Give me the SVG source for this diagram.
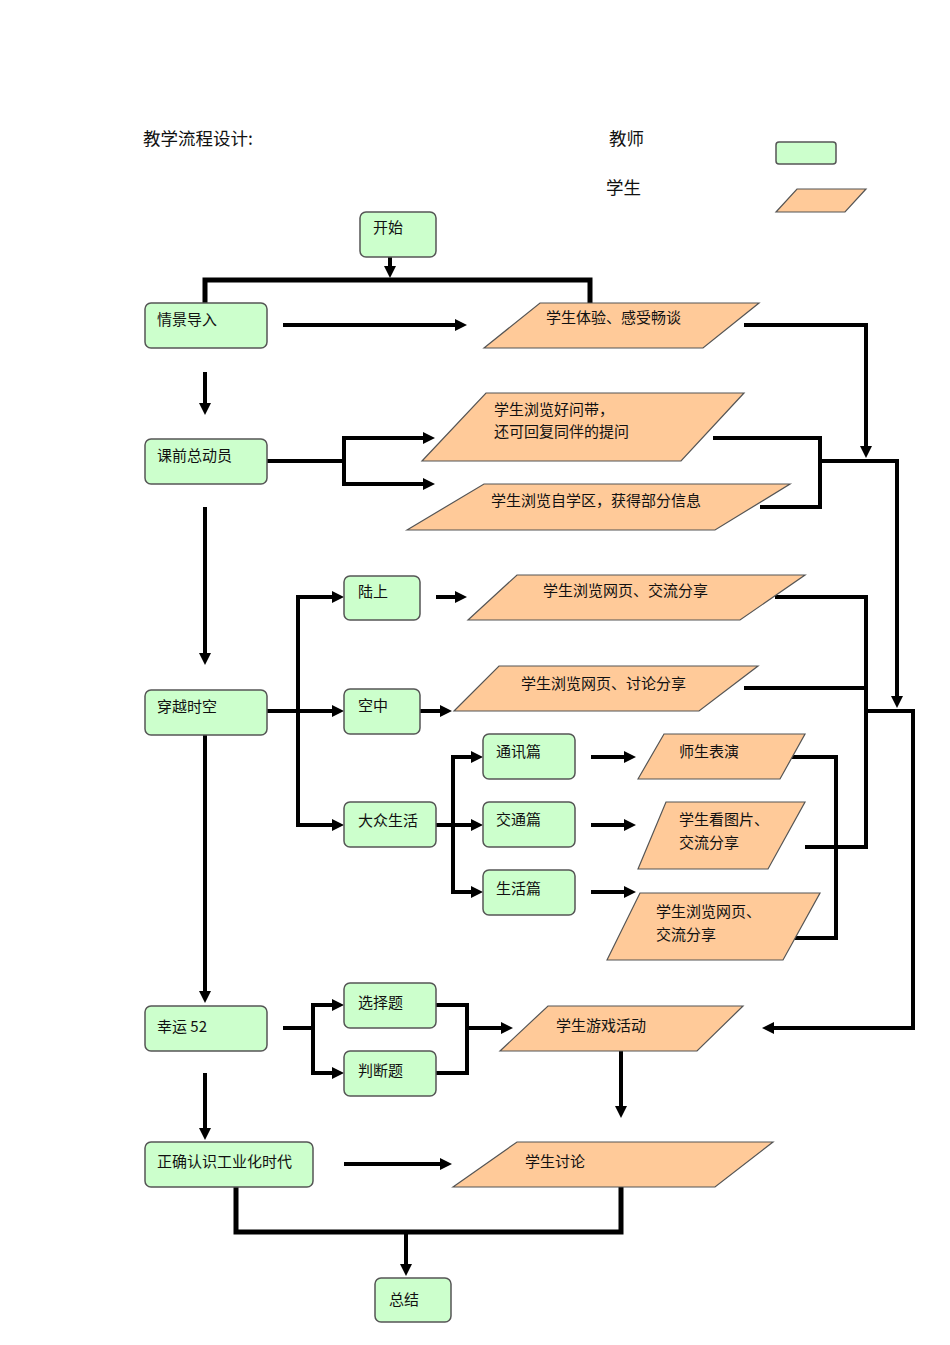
<svg xmlns="http://www.w3.org/2000/svg" width="950" height="1345" viewBox="0 0 950 1345">
<style>
.t{fill:#ccffcc;stroke:#555;stroke-width:1.5}
.s{fill:#ffca99;stroke:#555;stroke-width:1.2}
.tx{font-family:"Noto Sans CJK SC","Liberation Sans",sans-serif;font-size:15px;fill:#111}
.hd{font-family:"Noto Sans CJK SC","Liberation Sans",sans-serif;font-size:17.5px;fill:#111}
.c{fill:none;stroke:#000;stroke-width:4;stroke-linejoin:miter}
.b{stroke-width:5}
.a{marker-end:url(#ah)}
</style>
<defs>
<marker id="ah" markerUnits="userSpaceOnUse" markerWidth="13" markerHeight="13" refX="6" refY="6" orient="auto">
<path d="M0,0 L12,6 L0,12 z" fill="#000"/>
</marker>
</defs>
<rect width="950" height="1345" fill="#fff"/>
<g id="legend">
<text class="hd" x="143" y="145">教学流程设计:</text>
<text class="hd" x="609" y="145">教师</text>
<text class="hd" x="606" y="194">学生</text>
<rect class="t" x="776" y="142" width="60" height="22" rx="3"/>
<polygon class="s" points="776,212 797,189 866,189 845,212"/>
</g>
<g id="connectors">
<path class="c a" d="M390,257 V272"/>
<path class="c b" d="M205,303 V280 H590 V303"/>
<path class="c a" d="M283,325 H461"/>
<path class="c a" d="M744,325 H866 V452"/>
<path class="c a" d="M205,372 V409"/>
<path class="c" d="M267,461 H344"/>
<path class="c a" d="M429,438 H344 V484 H429"/>
<path class="c a" d="M344,438 H429"/>
<path class="c" d="M713,438 H820 V507 H760"/>
<path class="c a" d="M820,461 H897 V702"/>
<path class="c" d="M775,597 H866 V847 H805"/>
<path class="c" d="M744,688 H866"/>
<path class="c a" d="M866,711 H913 V1028 H768"/>
<path class="c" d="M790,757 H836 V938 H790"/>
<path class="c a" d="M267,711 H338"/>
<path class="c a" d="M338,597 H298 V825 H338"/>
<path class="c a" d="M298,597 H338"/>
<path class="c a" d="M436,597 H461"/>
<path class="c a" d="M420,711 H446"/>
<path class="c a" d="M436,825 H477"/>
<path class="c a" d="M477,757 H453 V892 H477"/>
<path class="c a" d="M453,757 H477"/>
<path class="c a" d="M591,757 H630"/>
<path class="c a" d="M591,825 H630"/>
<path class="c a" d="M591,892 H630"/>
<path class="c a" d="M205,507 V659"/>
<path class="c a" d="M205,735 V997"/>
<path class="c" d="M283,1028 H313"/>
<path class="c a" d="M338,1005 H313 V1073 H338"/>
<path class="c a" d="M313,1005 H338"/>
<path class="c" d="M436,1005 H467 V1073 H436"/>
<path class="c a" d="M467,1028 H507"/>
<path class="c a" d="M621,1051 V1112"/>
<path class="c a" d="M205,1073 V1134"/>
<path class="c a" d="M344,1164 H446"/>
<path class="c b" d="M236,1187 V1232 H621 V1187"/>
<path class="c a" d="M406,1232 V1270"/>
</g>
<g id="n-start"><rect class="t" x="360" y="212" width="76" height="45" rx="6"/><text class="tx" x="373" y="233">开始</text></g>
<g id="n-qjdr"><rect class="t" x="145" y="303" width="122" height="45" rx="6"/><text class="tx" x="157" y="325">情景导入</text></g>
<g id="n-kqzdy"><rect class="t" x="145" y="439" width="122" height="45" rx="6"/><text class="tx" x="157" y="461">课前总动员</text></g>
<g id="n-cysk"><rect class="t" x="145" y="690" width="122" height="45" rx="6"/><text class="tx" x="157" y="712">穿越时空</text></g>
<g id="n-ls"><rect class="t" x="344" y="576" width="76" height="44" rx="6"/><text class="tx" x="358" y="597">陆上</text></g>
<g id="n-kz"><rect class="t" x="344" y="689" width="76" height="45" rx="6"/><text class="tx" x="358" y="711">空中</text></g>
<g id="n-dzsh"><rect class="t" x="344" y="802" width="92" height="45" rx="6"/><text class="tx" x="358" y="826">大众生活</text></g>
<g id="n-txp"><rect class="t" x="483" y="734" width="92" height="45" rx="6"/><text class="tx" x="496" y="757">通讯篇</text></g>
<g id="n-jtp"><rect class="t" x="483" y="802" width="92" height="45" rx="6"/><text class="tx" x="496" y="825">交通篇</text></g>
<g id="n-shp"><rect class="t" x="483" y="870" width="92" height="45" rx="6"/><text class="tx" x="496" y="894">生活篇</text></g>
<g id="n-xy52"><rect class="t" x="145" y="1006" width="122" height="45" rx="6"/><text class="tx" x="157" y="1032">幸运 52</text></g>
<g id="n-xzt"><rect class="t" x="344" y="983" width="92" height="45" rx="6"/><text class="tx" x="358" y="1008">选择题</text></g>
<g id="n-pdt"><rect class="t" x="344" y="1051" width="92" height="45" rx="6"/><text class="tx" x="358" y="1076">判断题</text></g>
<g id="n-zqrs"><rect class="t" x="145" y="1142" width="168" height="45" rx="6"/><text class="tx" x="157" y="1167">正确认识工业化时代</text></g>
<g id="n-zj"><rect class="t" x="375" y="1278" width="76" height="44" rx="6"/><text class="tx" x="389" y="1305">总结</text></g>
<g id="s-tiyan"><polygon class="s" points="484,348 540,303 759,303 703,348"/><text class="tx" x="546" y="323">学生体验、感受畅谈</text></g>
<g id="s-hwd"><polygon class="s" points="422,461 486,393 744,393 681,461"/><text class="tx" x="494" y="415">学生浏览好问带，</text><text class="tx" x="494" y="437">还可回复同伴的提问</text></g>
<g id="s-zxq"><polygon class="s" points="407,530 484,484 790,484 715,530"/><text class="tx" x="491" y="506">学生浏览自学区，获得部分信息</text></g>
<g id="s-jlfx"><polygon class="s" points="468,620 517,575 805,575 740,620"/><text class="tx" x="543" y="596">学生浏览网页、交流分享</text></g>
<g id="s-tlfx"><polygon class="s" points="454,711 499,666 758,666 699,711"/><text class="tx" x="521" y="689">学生浏览网页、讨论分享</text></g>
<g id="s-ssby"><polygon class="s" points="638,779 664,734 805,734 780,779"/><text class="tx" x="679" y="757">师生表演</text></g>
<g id="s-ktp"><polygon class="s" points="638,869 666,802 805,802 768,869"/><text class="tx" x="679" y="825">学生看图片、</text><text class="tx" x="679" y="848">交流分享</text></g>
<g id="s-llwy"><polygon class="s" points="607,960 640,893 820,893 783,960"/><text class="tx" x="656" y="917">学生浏览网页、</text><text class="tx" x="656" y="940">交流分享</text></g>
<g id="s-yxhd"><polygon class="s" points="500,1051 548,1006 743,1006 697,1051"/><text class="tx" x="556" y="1031">学生游戏活动</text></g>
<g id="s-tl"><polygon class="s" points="453,1187 517,1142 773,1142 715,1187"/><text class="tx" x="525" y="1167">学生讨论</text></g>
</svg>
